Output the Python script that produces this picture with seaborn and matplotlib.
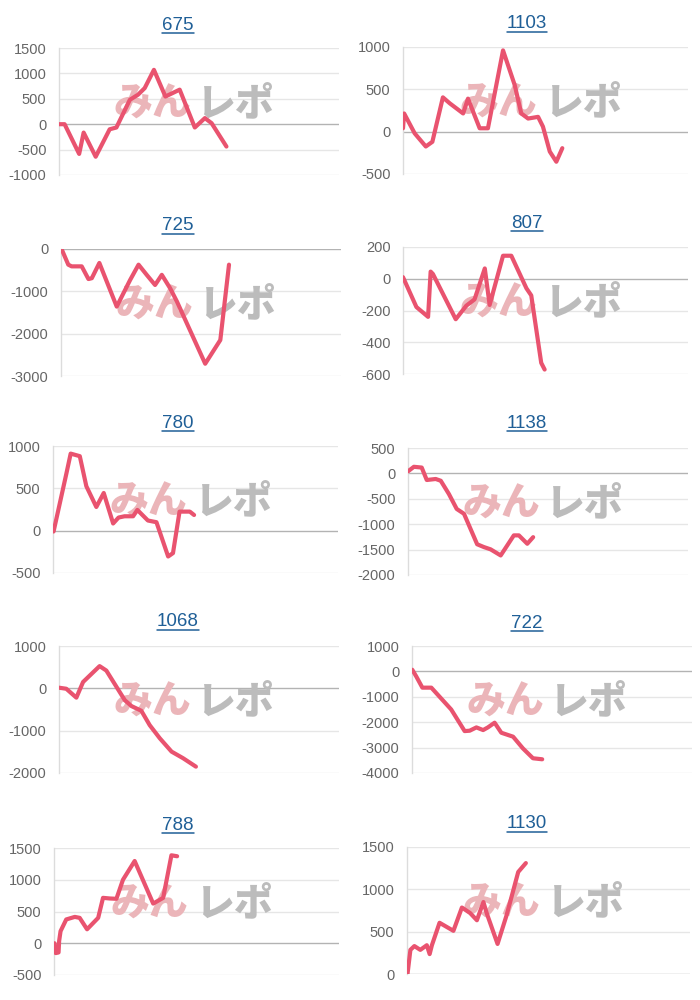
import matplotlib
matplotlib.use("Agg")
import matplotlib.pyplot as plt
import seaborn as sns
import pandas as pd
from matplotlib.lines import Line2D

sns.set_theme(style="white")
plt.rcParams['font.family'] = ['Liberation Sans', 'Noto Sans CJK JP', 'DejaVu Sans']

# ---------------- data ----------------
titles = ["675", "1103", "725", "807", "780", "1138", "1068", "722", "788", "1130"]

x_675 = [0, 2.0, 7.2, 8.8, 13.1, 18.1, 20.5, 25.3, 28.2, 30.6, 33.9, 38.0, 43.1, 48.5, 52.1, 54.5, 59.8]
y_675 = [0, 0, -585, -165, -640, -100, -65, 480, 580, 710, 1070, 545, 680, -65, 120, 20, -440]

x_1103 = [0, 0.4, 4.1, 8.0, 10.3, 14.0, 16.4, 21.1, 22.8, 26.9, 29.8, 35.1, 39.2, 41.5, 43.9, 47.4, 49.1, 51.5, 53.8, 55.9]
y_1103 = [40, 215, -20, -175, -120, 405, 335, 215, 390, 40, 40, 960, 550, 215, 155, 175, 60, -235, -355, -195]

x_725 = [0.2, 2.6, 3.8, 7.4, 9.8, 11.0, 13.7, 19.9, 24.7, 27.7, 30.6, 33.6, 36.0, 39.0, 41.4, 51.5, 56.9, 60.0]
y_725 = [0, -370, -410, -410, -710, -690, -330, -1360, -730, -370, -610, -850, -610, -930, -1240, -2710, -2150, -370]

x_807 = [0, 4.7, 8.8, 9.7, 10.5, 18.5, 22.2, 25.1, 28.7, 30.4, 35.1, 38.0, 43.3, 45.0, 48.5, 49.7]
y_807 = [10, -178, -240, 45, 30, -255, -170, -130, 65, -165, 145, 145, -60, -105, -530, -572]

x_780 = [0.2, 4.7, 6.2, 9.4, 11.7, 15.2, 17.8, 21.1, 23.0, 25.1, 28.1, 29.6, 33.3, 36.3, 40.4, 42.1, 44.4, 48.0, 49.5]
y_780 = [-10, 675, 910, 880, 525, 280, 445, 85, 155, 170, 170, 245, 120, 100, -305, -265, 225, 225, 185]

x_1138 = [0, 2.1, 4.9, 6.7, 9.9, 11.7, 14.6, 17.4, 20.0, 24.7, 27.1, 29.5, 33.1, 37.8, 39.6, 42.6, 44.7]
y_1138 = [40, 130, 115, -130, -110, -145, -405, -700, -795, -1395, -1450, -1495, -1615, -1220, -1220, -1385, -1255]

x_1068 = [0, 2.6, 6.2, 8.6, 14.5, 16.9, 23.5, 25.9, 29.4, 32.4, 36.0, 40.2, 44.3, 48.9]
y_1068 = [15, -10, -220, 150, 525, 420, -280, -420, -530, -870, -1180, -1495, -1650, -1850]

x_722 = [0.1, 1.5, 3.7, 6.9, 14.0, 18.8, 20.6, 23.0, 25.4, 27.1, 29.5, 31.9, 36.1, 39.6, 43.2, 46.5]
y_722 = [65, -195, -640, -640, -1500, -2350, -2335, -2205, -2310, -2205, -2020, -2415, -2570, -3030, -3420, -3460]

x_788 = [0.2, 0.6, 1.6, 1.8, 2.3, 4.3, 7.3, 9.0, 11.6, 15.5, 17.2, 19.6, 21.9, 24.2, 28.3, 34.8, 38.3, 41.2, 43.2]
y_788 = [0, -155, -145, 35, 190, 375, 415, 400, 220, 400, 715, 705, 700, 1000, 1295, 625, 715, 1385, 1370]

x_1130 = [0.2, 1.2, 2.6, 4.7, 7.0, 8.0, 8.8, 11.5, 16.4, 19.4, 22.3, 24.7, 27.0, 28.2, 32.0, 35.2, 39.3, 42.0]
y_1130 = [5, 285, 330, 285, 340, 235, 340, 605, 510, 785, 720, 635, 850, 715, 355, 695, 1205, 1310]

yticks_675 = [-1000, -500, 0, 500, 1000, 1500]
yticks_1103 = [-500, 0, 500, 1000]
yticks_725 = [-3000, -2000, -1000, 0]
yticks_807 = [-600, -400, -200, 0, 200]
yticks_780 = [-500, 0, 500, 1000]
yticks_1138 = [-2000, -1500, -1000, -500, 0, 500]
yticks_1068 = [-2000, -1000, 0, 1000]
yticks_722 = [-4000, -3000, -2000, -1000, 0, 1000]
yticks_788 = [-500, 0, 500, 1000, 1500]
yticks_1130 = [0, 500, 1000, 1500]

xs = [x_675, x_1103, x_725, x_807, x_780, x_1138, x_1068, x_722, x_788, x_1130]
ys = [y_675, y_1103, y_725, y_807, y_780, y_1138, y_1068, y_722, y_788, y_1130]
yticks = [yticks_675, yticks_1103, yticks_725, yticks_807, yticks_780,
          yticks_1138, yticks_1068, yticks_722, yticks_788, yticks_1130]

# ---------------- layout (pixels: left, right, top, bottom) ----------------
W, H = 700, 1000
rects_px = [(59, 339, 48, 175), (403, 688, 47, 174),
            (61, 341, 249, 376), (403, 688, 247, 374),
            (53, 338, 446, 573), (408, 688, 448, 575),
            (59, 339, 646, 773), (412, 692, 646, 773),
            (54, 339, 848, 975), (407, 690, 847, 974)]
title_centers = [(178, 25), (527, 24), (178, 226), (527, 223), (178, 423), (527, 424),
                 (178, 622), (527, 623), (178, 825), (527, 824)]

LINE = "#e9536f"
GRID = "#e6e6e6"
ZERO = "#b3b3b3"
LABEL = "#666666"
LINK = "#1f5f97"

fig = plt.figure(figsize=(W / 100, H / 100), dpi=100)
fig.patch.set_facecolor("white")

axes = []
for i in range(10):
    l, r, t, b = rects_px[i]
    ax = fig.add_axes([l / W, 1 - b / H, (r - l) / W, (b - t) / H])
    axes.append(ax)
    df = pd.DataFrame({"x": xs[i], "y": ys[i]})
    # watermark
    ax.text(0.335, 0.56, "みん", transform=ax.transAxes, ha="center", va="center",
            fontsize=28, fontweight=900, color="#ebb5b9", family=["Noto Sans CJK JP"],
            zorder=1)
    ax.text(0.63, 0.56, "レポ", transform=ax.transAxes, ha="center", va="center",
            fontsize=28, fontweight=900, color="#bcbcbc", family=["Noto Sans CJK JP"],
            zorder=1)
    for v in yticks[i]:
        ax.axhline(v, color=ZERO if v == 0 else GRID, lw=1.0, zorder=0.5)
    sns.lineplot(data=df, x="x", y="y", ax=ax, color=LINE, lw=3.0, sort=False,
                 estimator=None, zorder=3, solid_joinstyle="round", solid_capstyle="round")
    ax.set_xlim(0, 100)
    ax.set_ylim(min(yticks[i]), max(yticks[i]))
    ax.set_yticks(yticks[i])
    ax.set_yticklabels([str(v) for v in yticks[i]])
    ax.set_xticks([])
    ax.set_xlabel("")
    ax.set_ylabel("")
    ax.tick_params(axis="y", length=0, pad=9, labelsize=10.5, labelcolor=LABEL)
    for s in ["top", "right", "bottom"]:
        ax.spines[s].set_visible(False)
    ax.spines["left"].set_color("#dcdcdc")
    ax.spines["left"].set_linewidth(1.0)
    ax.set_facecolor("none")
    ax.grid(False)

# titles with underline
texts = []
for i in range(10):
    cx, cy = title_centers[i]
    t = fig.text(cx / W, 1 - cy / H, titles[i], ha="center", va="center",
                 fontsize=13.5, color=LINK)
    texts.append(t)

fig.canvas.draw()
renderer = fig.canvas.get_renderer()
for t in texts:
    bb = t.get_window_extent(renderer)
    y_line = bb.y0 + 1
    fig.add_artist(Line2D([bb.x0 / W, bb.x1 / W], [y_line / H, y_line / H],
                          transform=fig.transFigure, color=LINK, lw=1.1))

fig.savefig("out.png", dpi=100, facecolor="white")
